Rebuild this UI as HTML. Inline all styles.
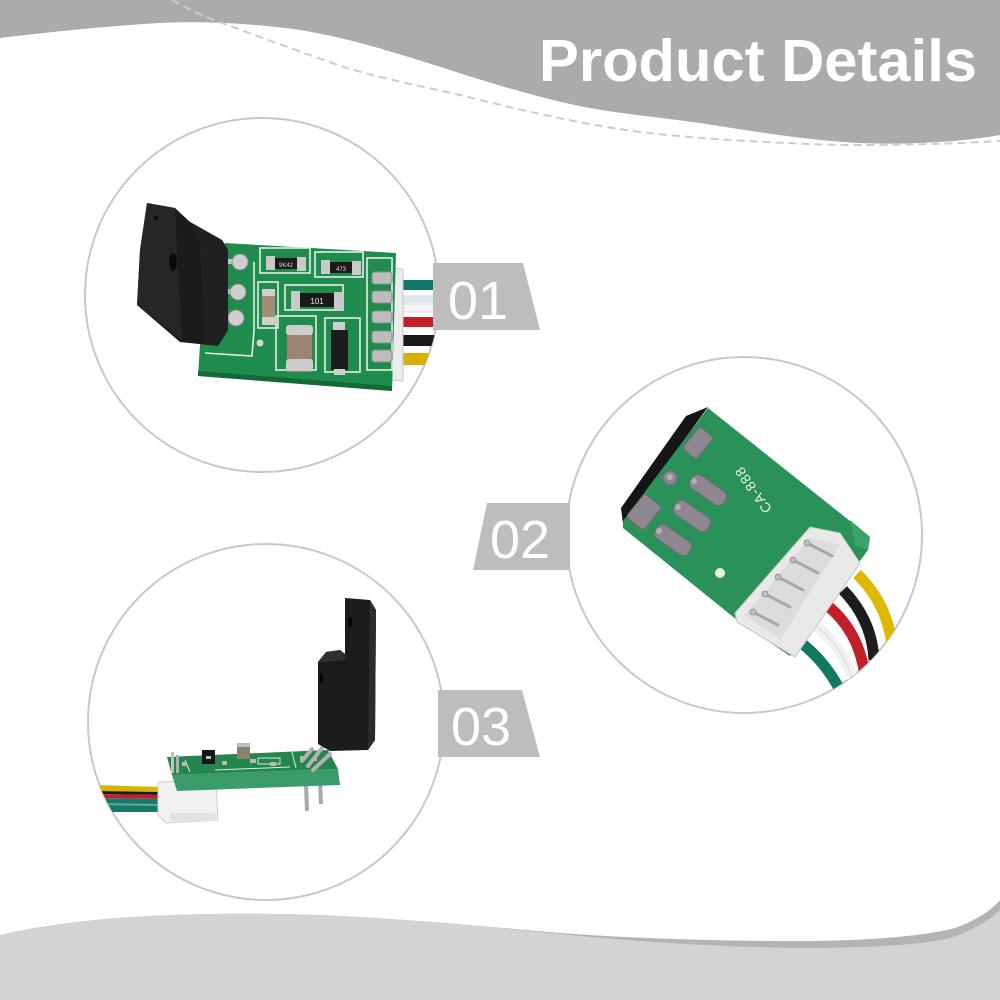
<!DOCTYPE html>
<html>
<head>
<meta charset="utf-8">
<style>
  html,body{margin:0;padding:0;background:#fff;}
  svg{display:block;}
</style>
</head>
<body>
<svg width="1000" height="1000" viewBox="0 0 1000 1000" xmlns="http://www.w3.org/2000/svg">
  <defs>
    <clipPath id="c1"><circle cx="262" cy="295" r="177"/></clipPath>
    <clipPath id="c2"><circle cx="744" cy="535" r="178"/></clipPath>
    <clipPath id="c3"><circle cx="266" cy="722" r="178"/></clipPath>
  </defs>
  <rect width="1000" height="1000" fill="#ffffff"/>

  <!-- Header gray wave -->
  <path d="M0,0 H1000 V135 C985,138 960,141 930,142.5 C900,144 875,144 850,142.5 C800,139 750,131 700,123 C650,116 610,113 570,104 C530,95 490,83 450,70 C400,54 350,38 300,30 C250,23 200,21 160,23 C110,26 60,31 0,38 Z" fill="#ababab"/>
  <!-- Dashed line -->
  <path d="M172,0 C190,10 205,17 222,23 C250,33 300,52 344,67 C380,78 420,86 460,95 C520,110 580,124 640,132 C700,139 760,142 820,144.5 C880,146 950,144 1000,141" fill="none" stroke="#cdcdcd" stroke-width="2" stroke-dasharray="8,5"/>

  <!-- Header text -->
  <text x="539" y="81" font-family="Liberation Sans, Arial, sans-serif" font-weight="bold" font-size="59" fill="#ffffff" textLength="438" lengthAdjust="spacingAndGlyphs">Product Details</text>

  <!-- Bottom wave: shadow then light band -->
  <path d="M0,935 C40,926 90,919 150,916 C210,913 280,913 340,916 C420,920 480,926 560,933 C640,939 720,941 800,941 C860,941 920,937 955,928 C975,921 992,910 1000,900 V1000 H0 Z" fill="#b4b4b4"/>
  <path d="M0,935 C40,926 90,919 150,916 C210,913 280,913 340,916 C420,920 480,926 560,934 C640,942 720,947 800,948 C860,948 915,946 950,938 C972,931 990,920 1000,910 V1000 H0 Z" fill="#d3d3d3"/>

  <!-- Circles -->
  <circle cx="262" cy="295" r="177" fill="#ffffff" stroke="#c8c8c8" stroke-width="2"/>
  <circle cx="744" cy="535" r="178" fill="#ffffff" stroke="#c8c8c8" stroke-width="2"/>
  <circle cx="266" cy="722" r="178" fill="#ffffff" stroke="#c8c8c8" stroke-width="2"/>

  <!-- ================= Circle 1 content ================= -->
  <g clip-path="url(#c1)">
    <!-- wires -->
    <rect x="400" y="280" width="45" height="10" fill="#14756b"/>
    <rect x="400" y="295" width="45" height="8" fill="#dbe6ee"/>
    <rect x="400" y="304" width="45" height="8" fill="#f4f4f4" stroke="#d0d0d0" stroke-width="0.8"/>
    <rect x="400" y="317" width="45" height="10" fill="#c41e2a"/>
    <rect x="400" y="335" width="45" height="11" fill="#191919"/>
    <rect x="400" y="353" width="45" height="12" fill="#d9b000"/>
    <!-- white connector sliver -->
    <polygon points="389,267 403,269 403,381 389,380" fill="#ececec" stroke="#c8c8c8" stroke-width="1"/>
    <!-- PCB -->
    <polygon points="225,243 396,253 392,391 198,376 200,345" fill="#1f8b4c"/>
    <polygon points="198,371 392,386 392,391 198,376" fill="#146a37"/>
    <!-- silkscreen -->
    <g fill="none" stroke="#e3efe6" stroke-width="1.6">
      <rect x="260" y="248" width="50" height="25"/>
      <rect x="315" y="252" width="48" height="25"/>
      <rect x="258" y="282" width="20" height="46"/>
      <rect x="285" y="285" width="58" height="25"/>
      <rect x="276" y="316" width="40" height="54"/>
      <rect x="325" y="318" width="35" height="54"/>
      <rect x="367" y="258" width="25" height="112"/>
      <polyline points="205,353 252,356 254,330 254,262"/>
    </g>
    <!-- resistors -->
    <rect x="267" y="258" width="38" height="11" fill="#1a1a1a"/>
    <rect x="266" y="256" width="9" height="14" fill="#c9c9c9"/>
    <rect x="297" y="257" width="9" height="14" fill="#c9c9c9"/>
    <text x="286" y="267" font-family="Liberation Sans, sans-serif" font-size="6" fill="#ddd" text-anchor="middle">9K42</text>
    <rect x="322" y="262" width="38" height="11" fill="#1a1a1a"/>
    <rect x="321" y="260" width="9" height="14" fill="#c9c9c9"/>
    <rect x="352" y="261" width="9" height="14" fill="#c9c9c9"/>
    <text x="341" y="271" font-family="Liberation Sans, sans-serif" font-size="6" fill="#ddd" text-anchor="middle">473</text>
    <rect x="293" y="293" width="49" height="14" fill="#1a1a1a"/>
    <rect x="291" y="291" width="9" height="18" fill="#c9c9c9"/>
    <rect x="334" y="292" width="9" height="18" fill="#c9c9c9"/>
    <text x="317" y="304" font-family="Liberation Sans, sans-serif" font-size="8" fill="#e6e6e6" text-anchor="middle">101</text>
    <!-- caps -->
    <rect x="262" y="290" width="13" height="34" fill="#a48c74"/>
    <rect x="262" y="289" width="13" height="7" fill="#cfcfcf"/>
    <rect x="262" y="317" width="13" height="8" fill="#cfcfcf"/>
    <rect x="287" y="326" width="25" height="46" fill="#9c8570"/>
    <rect x="286" y="325" width="27" height="10" rx="3" fill="#cdcdcd"/>
    <rect x="286" y="359" width="27" height="12" rx="3" fill="#cdcdcd"/>
    <!-- transistor -->
    <rect x="333" y="322" width="12" height="9" fill="#cfcfcf"/>
    <rect x="331" y="330" width="17" height="40" fill="#1c1c1c"/>
    <rect x="334" y="369" width="11" height="6" fill="#cfcfcf"/>
    <!-- hole -->
    <circle cx="260" cy="343" r="3.5" fill="#cfd8d2"/>
    <!-- right pads -->
    <g fill="#bdbdbd" stroke="#8f8f8f" stroke-width="1">
      <rect x="372" y="272" width="20" height="12" rx="3"/>
      <rect x="372" y="291" width="20" height="12" rx="3"/>
      <rect x="372" y="311" width="20" height="12" rx="3"/>
      <rect x="372" y="331" width="20" height="12" rx="3"/>
      <rect x="372" y="350" width="20" height="12" rx="3"/>
    </g>
    <!-- sensor leads -->
    <rect x="224" y="259" width="16" height="5" fill="#c4c4c4"/>
    <rect x="224" y="289" width="14" height="5" fill="#c4c4c4"/>
    <rect x="224" y="315" width="12" height="5" fill="#c4c4c4"/>
    <circle cx="240" cy="262" r="8" fill="#cfcfcf" stroke="#8f8f8f" stroke-width="1"/>
    <circle cx="238" cy="292" r="8" fill="#cfcfcf" stroke="#8f8f8f" stroke-width="1"/>
    <circle cx="236" cy="318" r="8" fill="#cfcfcf" stroke="#8f8f8f" stroke-width="1"/>
    <!-- black sensor -->
    <polygon points="147,203 175,208 190,222 222,240 228,250 228,330 218,346 180,342 137,305 140,250" fill="#1b1b1b"/>
    <polygon points="147,203 175,208 182,340 137,305 140,250" fill="#262626"/>
    <polygon points="190,222 222,240 228,250 228,330 218,346 205,344 200,240" fill="#202020"/>
    <ellipse cx="173" cy="262" rx="4" ry="9" fill="#0b0b0b"/>
    <circle cx="156" cy="218" r="2" fill="#0b0b0b"/>
  </g>

  <!-- ================= Circle 2 content ================= -->
  <g clip-path="url(#c2)">
    <!-- wires -->
    <g fill="none" stroke-width="11" stroke-linecap="butt">
      <path d="M857,574 Q887,603 892,645" stroke="#e0b800"/>
      <path d="M843,590 Q872,620 874,660" stroke="#1d1d1d"/>
      <path d="M828,606 Q857,630 864,670" stroke="#c21f2b"/>
      <path d="M814,624 Q842,646 853,680" stroke="#f2f2f2"/>
      <path d="M800,642 Q824,660 840,690" stroke="#0f7a5f"/>
    </g>
    <path d="M814,624 Q842,646 853,680" fill="none" stroke="#d6d6d6" stroke-width="1"/>
    <!-- black strip -->
    <polygon points="621,508 686,416 708,407 623,524" fill="#151515"/>
    <!-- board -->
    <polygon points="708,408 870,537 868,550 790,656 737,620 623,528 623,521" fill="#2a9158"/>
    <polygon points="850,520 870,537 868,550 855,545" fill="#3aa36a"/>
    <!-- pads -->
    <g fill="#8e8791" stroke="#6f6a72" stroke-width="1">
      <rect x="-14" y="-9" width="28" height="18" rx="3" transform="translate(698,443) rotate(129)"/>
      <rect x="-20" y="-8" width="40" height="16" rx="6" transform="translate(708,490) rotate(35)"/>
      <rect x="-20" y="-8" width="40" height="16" rx="6" transform="translate(692,516) rotate(35)"/>
      <rect x="-20" y="-8" width="40" height="16" rx="6" transform="translate(673,540) rotate(35)"/>
      <rect x="-15" y="-11" width="30" height="22" rx="3" transform="translate(644,512) rotate(129)"/>
      <circle cx="670" cy="478" r="7"/>
    </g>
    <g fill="#b4aeb6">
      <circle cx="694" cy="481" r="3"/>
      <circle cx="678" cy="507" r="3"/>
      <circle cx="659" cy="531" r="3"/>
      <circle cx="670" cy="477" r="3"/>
    </g>
    <text x="0" y="0" font-family="Liberation Sans, sans-serif" font-size="14" fill="#e8f2ea" text-anchor="middle" letter-spacing="1" transform="translate(757,487) rotate(-125)">CA-888</text>
    <!-- dot -->
    <circle cx="720" cy="573" r="5" fill="#e6ece8"/>
    <!-- connector -->
    <polygon points="735,613 810,527 840,533 860,563 795,657 737,622" fill="#e9e9e7" stroke="#c4c4c4" stroke-width="1"/>
    <polygon points="745,615 810,538 840,545 780,640" fill="#dcdcda"/>
    <g stroke="#a8a8a8" stroke-width="3" stroke-linecap="round">
      <line x1="807" y1="543" x2="832" y2="556"/>
      <line x1="793" y1="560" x2="818" y2="573"/>
      <line x1="778" y1="577" x2="803" y2="590"/>
      <line x1="765" y1="594" x2="790" y2="607"/>
      <line x1="753" y1="612" x2="778" y2="625"/>
    </g>
    <g fill="#c0c0c0" stroke="#8a8a8a" stroke-width="0.8">
      <circle cx="807" cy="543" r="3"/>
      <circle cx="793" cy="560" r="3"/>
      <circle cx="778" cy="577" r="3"/>
      <circle cx="765" cy="594" r="3"/>
      <circle cx="753" cy="612" r="3"/>
    </g>
  </g>

  <!-- ================= Circle 3 content ================= -->
  <g clip-path="url(#c3)">
    <!-- wires -->
    <polygon points="95,785 162,787 162,792 95,791" fill="#d9b300"/>
    <polygon points="95,791 162,792 162,795 95,794" fill="#1a1a1a"/>
    <polygon points="95,794 162,795 162,799 95,798" fill="#c41e2a"/>
    <polygon points="95,798 162,799 163,812 100,812" fill="#157a6c"/>
    <polygon points="95,803 162,804 162,806 95,805" fill="#5fa89c"/>
    <!-- connector -->
    <polygon points="158,782 216,780 218,820 166,823 158,815" fill="#f1f1f1" stroke="#cfcfcf" stroke-width="1"/>
    <rect x="170" y="813" width="45" height="8" fill="#e2e2e2"/>
    <!-- bottom pins -->
    <line x1="306" y1="784" x2="307" y2="811" stroke="#a9a9a9" stroke-width="4"/>
    <line x1="320" y1="782" x2="321" y2="804" stroke="#a9a9a9" stroke-width="4"/>
    <!-- board -->
    <polygon points="172,775 338,769 340,785 177,791" fill="#3b9b68"/>
    <polygon points="167,757 328,750 338,769 172,775" fill="#24854d"/>
    <g fill="none" stroke="#d8ebdf" stroke-width="1">
      <polyline points="185,760 190,772"/>
      <polyline points="215,770 290,767"/>
      <polyline points="292,752 296,768"/>
      <rect x="258" y="758" width="22" height="6"/>
    </g>
    <g fill="#b8b8b8">
      <rect x="182" y="762" width="5" height="4"/>
      <rect x="222" y="761" width="5" height="4"/>
      <rect x="250" y="759" width="6" height="4"/>
      <rect x="270" y="762" width="6" height="4"/>
      <rect x="300" y="756" width="5" height="4"/>
      <rect x="312" y="757" width="5" height="4"/>
    </g>
    <!-- components -->
    <rect x="202" y="750" width="13" height="14" fill="#151515"/>
    <rect x="206" y="756" width="5" height="3" fill="#bbb"/>
    <rect x="237" y="743" width="13" height="16" fill="#8a8070"/>
    <rect x="237" y="743" width="13" height="4" fill="#bdbdbd"/>
    <!-- left pins -->
    <rect x="171" y="752" width="3" height="21" fill="#c0c0c0"/>
    <rect x="176" y="755" width="3" height="18" fill="#b0b0b0"/>
    <!-- leads -->
    <g stroke="#b2b2b2" stroke-width="4" stroke-linecap="round">
      <line x1="312" y1="749" x2="302" y2="761"/>
      <line x1="322" y1="748" x2="308" y2="766"/>
      <line x1="330" y1="754" x2="313" y2="770"/>
    </g>
    <!-- sensor -->
    <polygon points="345,598 370,600 376,610 375,740 368,750 330,751 318,744 318,662 326,652 340,650 345,654" fill="#1c1c1c"/>
    <polygon points="370,600 376,610 375,740 368,750" fill="#2c2c2c"/>
    <polygon points="318,662 326,652 340,650 345,654 345,660 325,662" fill="#303030"/>
    <rect x="348" y="617" width="4" height="10" fill="#080808"/>
    <rect x="320" y="673" width="3" height="10" fill="#080808"/>
  </g>

  <!-- ================= Labels ================= -->
  <polygon points="433,263 523,263 540,330 433,330" fill="#bdbdbd"/>
  <text x="448" y="319" font-family="Liberation Sans, Arial, sans-serif" font-size="54" fill="#ffffff">01</text>

  <polygon points="487,503 570,503 570,570 473,570" fill="#bdbdbd"/>
  <text x="490" y="558" font-family="Liberation Sans, Arial, sans-serif" font-size="54" fill="#ffffff">02</text>

  <polygon points="438,690 522,690 540,757 438,757" fill="#bdbdbd"/>
  <text x="451" y="745" font-family="Liberation Sans, Arial, sans-serif" font-size="54" fill="#ffffff">03</text>
</svg>
</body>
</html>
